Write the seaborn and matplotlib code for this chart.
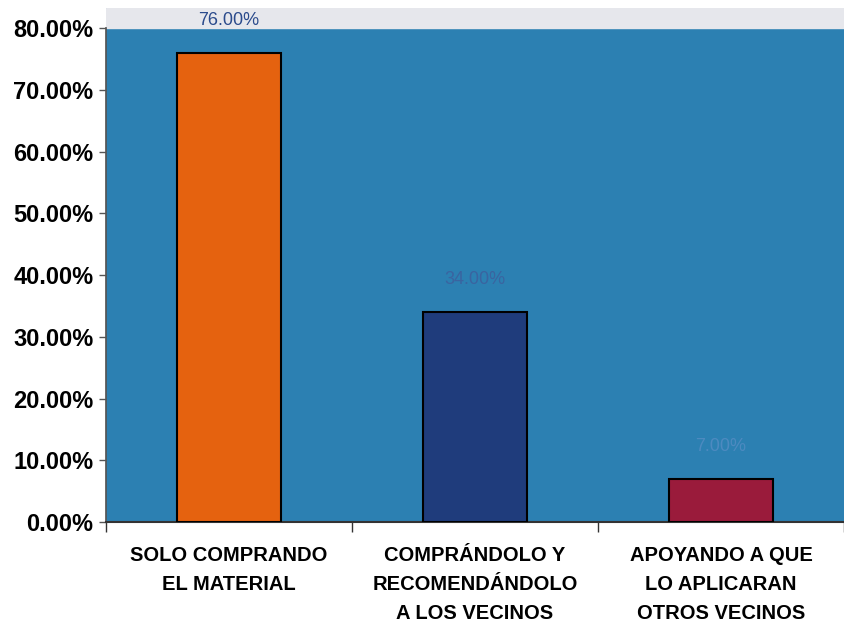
import pandas as pd
import numpy as np
import matplotlib.pyplot as plt
import matplotlib.ticker as mticker
import seaborn as sns

sns.set_theme(style="white")
plt.rcParams.update({"font.family": ["Liberation Sans", "DejaVu Sans"],
                     "text.color": "black",
                     "xtick.color": "black", "ytick.color": "black"})

# ── DATA ─────────────────────────────────────────────────────────────────────
categorias = ["SOLO COMPRANDO\nEL MATERIAL",
              "COMPRÁNDOLO Y\nRECOMENDÁNDOLO\nA LOS VECINOS",
              "APOYANDO A QUE\nLO APLICARAN\nOTROS VECINOS"]
porcentajes = [0.76, 0.34, 0.07]
etiquetas = ["76.00%", "34.00%", "7.00%"]
colores = ["#e5620f", "#1f3c7c", "#9a1b3b"]

df = pd.DataFrame({"categoria": categorias, "pct": porcentajes})

fig = plt.figure(figsize=(8.44, 6.34), dpi=100)
ax = fig.add_axes([0.1256, 0.1767, 0.8744, 0.811])
ax.set_facecolor("#2c80b2")

sns.barplot(data=df, x="categoria", y="pct", hue="categoria",
            palette=colores, saturation=1, legend=False, width=0.42,
            edgecolor="black", linewidth=1.5, ax=ax, zorder=3)

ax.set_ylim(0, 0.833)
ax.set_xlim(-0.5, 2.5)
ax.axhspan(0.80, 0.833, color="#e6e7ec", zorder=1)

# value labels
lab_cols = ["#2b4b8c", "#3a64a0", "#4d8ac0"]
for i, (v, t) in enumerate(zip(porcentajes, etiquetas)):
    ax.text(i, v + 0.053, t, ha="center", va="center", fontsize=13,
            color=lab_cols[i], zorder=5, clip_on=False)

ax.yaxis.set_major_locator(mticker.FixedLocator(np.arange(0, 0.81, 0.1)))
ax.yaxis.set_major_formatter(mticker.FuncFormatter(lambda x, _: f"{x*100:.2f}%"))
ax.set_xticks([0, 1, 2])
ax.set_xticklabels(categorias, fontsize=14.5, fontweight="bold",
                   linespacing=1.68)
ax.xaxis.set_minor_locator(mticker.FixedLocator([-0.5, 0.5, 1.5, 2.5]))
ax.tick_params(axis="x", which="major", length=0, pad=17)
ax.tick_params(axis="x", which="minor", length=7, width=1, color="#333333",
               direction="out", bottom=True)
ax.tick_params(axis="y", length=5, width=1, color="#555555", direction="out",
               left=True, labelsize=17, pad=4)
for lab in ax.get_yticklabels():
    lab.set_fontweight("bold")

ax.set_xlabel("")
ax.set_ylabel("")
for s in ["top", "right"]:
    ax.spines[s].set_visible(False)
ax.spines["left"].set_color("#555555")
ax.spines["left"].set_bounds(0, 0.8)
ax.spines["bottom"].set_color("#333333")
ax.spines["bottom"].set_linewidth(1.5)

plt.savefig("out.png", dpi=100, facecolor="white")
plt.close()
